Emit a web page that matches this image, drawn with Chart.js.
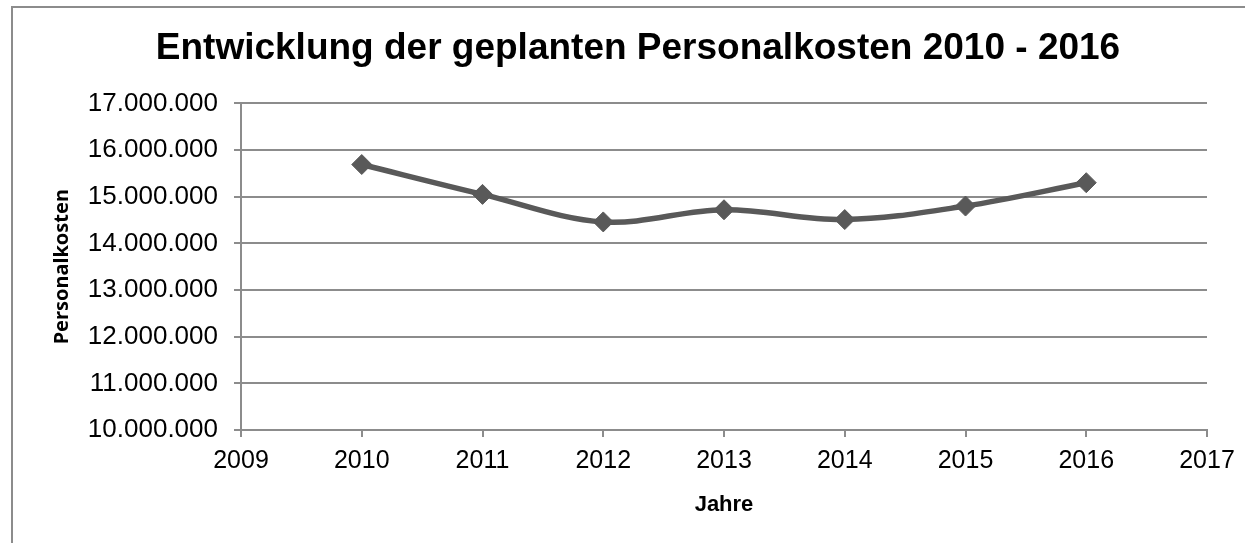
<!DOCTYPE html>
<html>
<head>
<meta charset="utf-8">
<script src="https://cdn.jsdelivr.net/npm/chart.js@4"></script>
<style>
  body { margin: 0; background: #fff; }
  #wrap { position: relative; width: 1245px; height: 543px; }
  #frame { position: absolute; left: 11px; top: 6px; width: 1260px; height: 560px; border: 2px solid #8c8c8c; }
  #chart { position: absolute; left: 0; top: 0; }
</style>
</head>
<body>
<div id="wrap">
  <div id="frame"></div>
  <canvas id="chart" width="1245" height="543"></canvas>
</div>
<script>
// Jahre und geplante Personalkosten
const years = [2010, 2011, 2012, 2013, 2014, 2015, 2016];
const costs = [15690000, 15050000, 14460000, 14720000, 14510000, 14800000, 15300000];

const yMin = 10000000, yMax = 17000000, yStep = 1000000;
const xMin = 2009, xMax = 2017;

const fmt = v => v.toLocaleString('de-DE');

(function personal_chart() {
    const points = years.map((y, i) => ({ x: y, y: costs[i] }));

    const ctx = document.getElementById("chart").getContext("2d");

    const myChart = new Chart(ctx, {
        type: "line",
        data: {
            datasets: [
                {
                label: "Personalkosten",
                data: points,
                borderColor: "#595959",
                backgroundColor: "#595959",
                borderWidth: 5.5,
                tension: 0.35,
                pointStyle: "rectRot",
                pointRadius: 10,
                pointBorderWidth: 1,
                pointBackgroundColor: "#595959",
                pointBorderColor: "#595959",
                },
            ],
        },
        options: {
            responsive: false,
            animation: false,
            // left padding keeps the title centred like the original
            layout: { padding: { left: 69, right: 38, top: 0, bottom: 0 } },
            plugins: {
                legend: { display: false },
                tooltip: { enabled: false },
                title: {
                    display: true,
                    text: "Entwicklung der geplanten Personalkosten 2010 - 2016",
                    color: "#000",
                    font: { family: "'Liberation Sans', Arial, sans-serif", size: 37, weight: "bold" },
                    padding: { top: 27, bottom: 32 },
                },
            },
            scales: {
                x: {
                    type: "linear",
                    min: xMin,
                    max: xMax,
                    afterFit: s => { s.height = 113; },
                    ticks: {
                        stepSize: 1,
                        color: "#000",
                        padding: 9,
                        font: { family: "'Liberation Sans', Arial, sans-serif", size: 25 },
                        callback: v => String(v),
                    },
                    grid: { drawOnChartArea: false, drawTicks: true, tickLength: 7, color: "#8c8c8c", lineWidth: 2 },
                    border: { color: "#8c8c8c", width: 2 },
                    title: {
                        display: true,
                        text: "Jahre",
                        color: "#000",
                        font: { family: "'Liberation Sans', Arial, sans-serif", size: 22, weight: "bold" },
                        padding: { top: 0, bottom: 25 },
                    },
                },
                y: {
                    min: yMin,
                    max: yMax,
                    afterFit: s => { s.width = 172; },
                    ticks: {
                        stepSize: yStep,
                        color: "#000",
                        padding: 16,
                        font: { family: "'Liberation Sans', Arial, sans-serif", size: 26 },
                        callback: v => fmt(v),
                    },
                    grid: { color: "#8c8c8c", lineWidth: 2, tickLength: 7 },
                    border: { color: "#8c8c8c", width: 2 },
                    title: {
                        display: true,
                        text: "Personalkosten",
                        color: "#000",
                        font: { family: "'Noto Sans', sans-serif", size: 20, weight: "bold" },
                        padding: { top: -19, bottom: 0 },
                    },
                },
            },
        },
    });
})();
</script>
</body>
</html>
